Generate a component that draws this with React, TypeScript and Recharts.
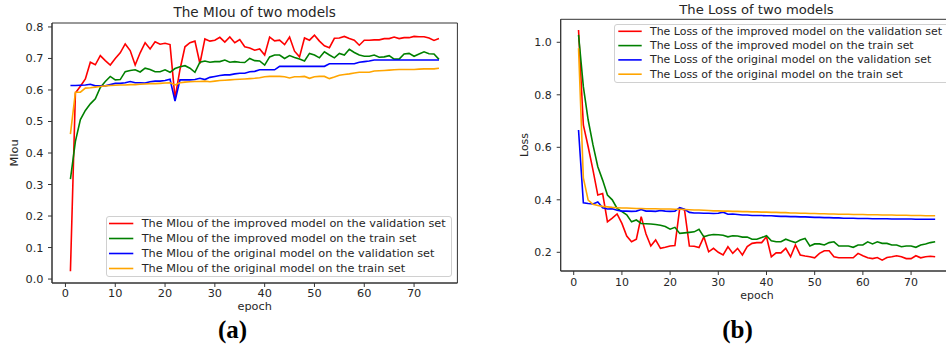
import React from 'react';
import { LineChart, Line, XAxis, YAxis, ReferenceArea, Legend, Label } from 'recharts';

const epochs = [1,2,3,4,5,6,7,8,9,10,11,12,13,14,15,16,17,18,19,20,21,22,23,24,25,26,27,28,29,30,31,32,33,34,35,36,37,38,39,40,41,42,43,44,45,46,47,48,49,50,51,52,53,54,55,56,57,58,59,60,61,62,63,64,65,66,67,68,69,70,71,72,73,74,75];

const miouImprovedVal = [0.025,0.59,0.612,0.635,0.688,0.68,0.709,0.693,0.679,0.7,0.718,0.746,0.725,0.679,0.718,0.75,0.73,0.753,0.745,0.748,0.744,0.574,0.665,0.737,0.75,0.755,0.684,0.762,0.755,0.758,0.767,0.752,0.768,0.75,0.76,0.737,0.733,0.726,0.73,0.711,0.768,0.756,0.758,0.744,0.768,0.723,0.705,0.765,0.758,0.774,0.755,0.74,0.734,0.764,0.765,0.77,0.763,0.758,0.742,0.758,0.758,0.759,0.759,0.763,0.763,0.768,0.763,0.766,0.766,0.77,0.769,0.769,0.765,0.757,0.763];
const miouImprovedTrain = [0.317,0.437,0.506,0.535,0.556,0.572,0.608,0.627,0.643,0.632,0.633,0.658,0.662,0.664,0.657,0.669,0.665,0.658,0.658,0.664,0.656,0.668,0.674,0.677,0.669,0.656,0.688,0.692,0.688,0.69,0.69,0.695,0.688,0.69,0.688,0.687,0.7,0.693,0.692,0.679,0.705,0.711,0.711,0.7,0.709,0.703,0.698,0.692,0.716,0.711,0.702,0.721,0.711,0.702,0.716,0.711,0.729,0.719,0.711,0.707,0.707,0.711,0.704,0.705,0.709,0.698,0.698,0.714,0.716,0.707,0.714,0.721,0.715,0.714,0.697];
const miouOriginalVal = [0.614,0.614,0.615,0.616,0.618,0.613,0.613,0.613,0.617,0.621,0.621,0.623,0.627,0.623,0.623,0.622,0.626,0.628,0.628,0.63,0.634,0.565,0.632,0.632,0.632,0.633,0.637,0.633,0.64,0.643,0.646,0.648,0.648,0.651,0.653,0.653,0.658,0.659,0.664,0.664,0.664,0.664,0.675,0.675,0.675,0.675,0.675,0.675,0.675,0.675,0.675,0.675,0.683,0.683,0.683,0.683,0.683,0.683,0.688,0.69,0.692,0.695,0.695,0.695,0.695,0.695,0.695,0.695,0.695,0.695,0.695,0.695,0.695,0.695,0.695];
const miouOriginalTrain = [0.46,0.593,0.593,0.606,0.607,0.609,0.611,0.613,0.614,0.615,0.616,0.616,0.617,0.617,0.618,0.619,0.62,0.62,0.621,0.622,0.623,0.616,0.623,0.625,0.626,0.627,0.627,0.628,0.626,0.628,0.63,0.631,0.632,0.633,0.634,0.635,0.636,0.637,0.639,0.642,0.643,0.643,0.643,0.642,0.638,0.642,0.642,0.643,0.637,0.642,0.643,0.643,0.636,0.641,0.647,0.649,0.651,0.654,0.656,0.656,0.656,0.66,0.661,0.662,0.663,0.664,0.665,0.665,0.665,0.665,0.666,0.667,0.667,0.667,0.669];

const lossImprovedVal = [1.047,0.685,0.602,0.513,0.418,0.424,0.316,0.33,0.346,0.31,0.262,0.24,0.25,0.336,0.27,0.224,0.247,0.215,0.219,0.224,0.226,0.368,0.361,0.224,0.223,0.218,0.259,0.202,0.215,0.2,0.19,0.221,0.196,0.215,0.19,0.222,0.234,0.237,0.237,0.259,0.183,0.198,0.198,0.215,0.183,0.228,0.19,0.186,0.183,0.179,0.196,0.206,0.206,0.183,0.179,0.179,0.179,0.179,0.196,0.187,0.179,0.176,0.18,0.17,0.18,0.183,0.187,0.183,0.176,0.176,0.187,0.179,0.183,0.185,0.183];
const lossImprovedTrain = [1.028,0.831,0.704,0.609,0.526,0.475,0.418,0.4,0.367,0.355,0.343,0.316,0.323,0.31,0.309,0.308,0.306,0.303,0.298,0.288,0.295,0.272,0.274,0.276,0.278,0.288,0.259,0.265,0.268,0.267,0.265,0.259,0.263,0.262,0.258,0.258,0.25,0.25,0.256,0.263,0.244,0.24,0.24,0.25,0.243,0.237,0.247,0.253,0.224,0.232,0.232,0.228,0.237,0.24,0.224,0.224,0.224,0.219,0.228,0.228,0.24,0.232,0.24,0.234,0.234,0.228,0.228,0.221,0.224,0.224,0.219,0.228,0.232,0.237,0.24];
const lossOriginalVal = [0.666,0.389,0.386,0.384,0.392,0.37,0.365,0.366,0.36,0.357,0.357,0.356,0.357,0.363,0.357,0.357,0.356,0.359,0.357,0.356,0.357,0.37,0.364,0.352,0.35,0.35,0.349,0.349,0.348,0.349,0.353,0.345,0.346,0.344,0.342,0.342,0.34,0.34,0.34,0.339,0.339,0.338,0.337,0.337,0.336,0.336,0.335,0.335,0.334,0.333,0.333,0.332,0.332,0.331,0.331,0.33,0.33,0.33,0.329,0.329,0.329,0.328,0.328,0.328,0.328,0.327,0.327,0.327,0.327,0.327,0.326,0.326,0.326,0.326,0.326];
const lossOriginalTrain = [0.977,0.483,0.399,0.383,0.378,0.375,0.373,0.371,0.37,0.369,0.369,0.368,0.367,0.367,0.366,0.366,0.366,0.365,0.365,0.365,0.364,0.364,0.363,0.362,0.361,0.361,0.36,0.359,0.358,0.358,0.357,0.357,0.356,0.356,0.355,0.355,0.354,0.354,0.353,0.353,0.352,0.352,0.351,0.351,0.35,0.35,0.349,0.349,0.348,0.348,0.347,0.347,0.346,0.346,0.345,0.345,0.345,0.344,0.344,0.344,0.343,0.343,0.343,0.342,0.342,0.342,0.341,0.341,0.341,0.34,0.34,0.34,0.339,0.339,0.339];

const miouNames = [
  'The MIou of the improved model on the validation set',
  'The MIou of the improved model on the train set',
  'The MIou of the original model on the validation set',
  'The MIou of the original model on the train set',
];
const lossNames = [
  'The Loss of the improved model on the validation set',
  'The Loss of the improved model on the train set',
  'The Loss of the original model on the validation set',
  'The Loss of the original model on the train set',
];
const seriesKeys = ['iv', 'it', 'ov', 'ot'];
const colors = ['#ff0000', '#008000', '#0000ff', '#ffa500'];
const xTicks = [0, 10, 20, 30, 40, 50, 60, 70];
const miouTicks = [0, 0.1, 0.2, 0.3, 0.4, 0.5, 0.6, 0.7, 0.8];
const lossTicks = [0.2, 0.4, 0.6, 0.8, 1.0];

const miouData = epochs.map((e, i) => ({ epoch: e, iv: miouImprovedVal[i], it: miouImprovedTrain[i], ov: miouOriginalVal[i], ot: miouOriginalTrain[i] }));
const lossData = epochs.map((e, i) => ({ epoch: e, iv: lossImprovedVal[i], it: lossImprovedTrain[i], ov: lossOriginalVal[i], ot: lossOriginalTrain[i] }));

const FONT = "'DejaVu Sans', sans-serif";
const TXT = '#262626';
const AX = '#333333';

type LegendProps = { names: string[]; w: number; h: number; rowY0: number; rowH: number; lx0: number; lx1: number; tx: number; fs: number };
const LegendBox = ({ names, w, h, rowY0, rowH, lx0, lx1, tx, fs }: LegendProps) => (
  <div style={{ position: 'relative', width: w, height: h, border: '1px solid #d0d0d0', borderRadius: 3, background: 'rgba(255,255,255,0.85)', boxSizing: 'border-box' }}>
    <svg width={w} height={h} style={{ position: 'absolute', left: -1, top: -1, overflow: 'visible' }}>
      {names.map((n, i) => (
        <g key={n}>
          <line x1={lx0} x2={lx1} y1={rowY0 + i * rowH} y2={rowY0 + i * rowH} stroke={colors[i]} strokeWidth={1.6} />
          <text x={tx} y={rowY0 + i * rowH} dominantBaseline="central" fill={TXT} fontFamily={FONT} fontSize={fs}>{n}</text>
        </g>
      ))}
    </svg>
  </div>
);

const axisText = (x: number, y: number, s: string, fs: number, rotate = false) => () => (
  <text x={x} y={y} textAnchor="middle" dominantBaseline="central" fill={TXT} fontFamily={FONT} fontSize={fs}
    transform={rotate ? `rotate(-90 ${x} ${y})` : undefined}>{s}</text>
);

export default function App() {
  const fsL = 11.3;
  const fsR = 10.95;
  return (
    <div style={{ position: 'absolute', left: 0, top: 0, width: 946, height: 347, overflow: 'hidden', background: '#fff' }}>
      <div style={{ position: 'absolute', left: 0, top: 0 }}>
        <LineChart width={470} height={320} data={miouData} margin={{ top: 23, right: 12.6, bottom: 0, left: 0 }}>
          <XAxis dataKey="epoch" type="number" domain={[-2.7, 78.7]} ticks={xTicks} allowDataOverflow interval={0}
            height={37} tickSize={4} tickMargin={2} stroke={AX} tick={{ fill: TXT, fontSize: fsL, fontFamily: FONT }}>
            <Label content={axisText(254.7, 306.5, 'epoch', fsL)} />
          </XAxis>
          <YAxis type="number" domain={[-0.0125, 0.8125]} ticks={miouTicks} allowDataOverflow interval={0}
            width={52} tickSize={4} tickMargin={4.5} stroke={AX} tickFormatter={(v: number) => v.toFixed(1)}
            tick={{ fill: TXT, fontSize: fsL, fontFamily: FONT }}>
            <Label content={axisText(14.7, 153, 'MIou', fsL, true)} />
          </YAxis>
          <ReferenceArea x1={-2.7} x2={78.7} y1={-0.0125} y2={0.8125} fill="none" stroke={AX} strokeWidth={1} ifOverflow="visible" />
          {seriesKeys.map((k, i) => (
            <Line key={k} dataKey={k} type="linear" stroke={colors[i]} strokeWidth={1.6} dot={false} isAnimationActive={false} />
          ))}
          <Legend layout="vertical" align="center" verticalAlign="middle"
            wrapperStyle={{ left: 106, top: 216, width: 346, height: 61 }}
            content={() => <LegendBox names={miouNames} w={346} h={61} rowY0={7.5} rowH={15} lx0={3} lx1={27.3} tx={35.7} fs={fsL} />} />
        </LineChart>
      </div>
      <div style={{ position: 'absolute', left: 470, top: 0 }}>
        <LineChart width={488} height={320} data={lossData} margin={{ top: 19.3, right: 5, bottom: 0, left: 0 }}>
          <XAxis dataKey="epoch" type="number" domain={[-2.7, 78.7]} ticks={xTicks} allowDataOverflow interval={0}
            height={49} tickSize={4} tickMargin={3} stroke={AX} tick={{ fill: TXT, fontSize: fsR, fontFamily: FONT }}>
            <Label content={axisText(287, 295, 'epoch', fsR)} />
          </XAxis>
          <YAxis type="number" domain={[0.1288, 1.0876]} ticks={lossTicks} allowDataOverflow interval={0}
            width={90.7} tickSize={4} tickMargin={5} stroke={AX} tickFormatter={(v: number) => v.toFixed(1)}
            tick={{ fill: TXT, fontSize: fsR, fontFamily: FONT }}>
            <Label content={axisText(54.7, 145, 'Loss', fsR, true)} />
          </YAxis>
          <ReferenceArea x1={-2.7} x2={78.7} y1={0.1288} y2={1.0876} fill="none" stroke={AX} strokeWidth={1} ifOverflow="visible" />
          {seriesKeys.map((k, i) => (
            <Line key={k} dataKey={k} type="linear" stroke={colors[i]} strokeWidth={1.6} dot={false} isAnimationActive={false} />
          ))}
          <Legend layout="vertical" align="center" verticalAlign="middle"
            wrapperStyle={{ left: 144, top: 24.3, width: 340, height: 59 }}
            content={() => <LegendBox names={lossNames} w={340} h={59} rowY0={7.3} rowH={14.3} lx0={4.3} lx1={27.7} tx={36} fs={fsR} />} />
        </LineChart>
      </div>
      <svg width={946} height={347} style={{ position: 'absolute', left: 0, top: 0, pointerEvents: 'none' }}>
        <text x={254.7} y={16.5} textAnchor="middle" fill={TXT} fontFamily={FONT} fontSize={13.6}>The MIou of two models</text>
        <text x={756.5} y={13.5} textAnchor="middle" fill={TXT} fontFamily={FONT} fontSize={13.15}>The Loss of two models</text>
        <text x={232.5} y={337.5} textAnchor="middle" fill="#000" fontFamily="'Liberation Serif', serif" fontWeight="bold" fontSize={25}>(a)</text>
        <text x={737.5} y={337.5} textAnchor="middle" fill="#000" fontFamily="'Liberation Serif', serif" fontWeight="bold" fontSize={25}>(b)</text>
      </svg>
    </div>
  );
}
